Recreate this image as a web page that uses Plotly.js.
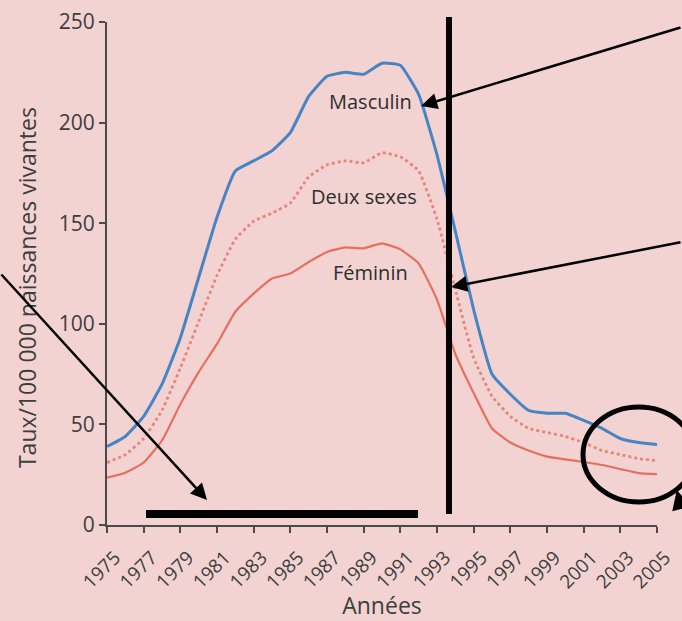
<!DOCTYPE html>
<html>
<head>
<meta charset="utf-8">
<script src="https://cdn.plot.ly/plotly-3.0.1.min.js"></script>
<style>html,body{margin:0;padding:0;background:#f3d3d2;}#chart{width:682px;height:621px;}</style>
</head>
<body>
<div id="chart"></div>
<script>
const years = [1975,1976,1977,1978,1979,1980,1981,1982,1983,1984,1985,1986,1987,1988,1989,1990,1991,1992,1993,1994,1995,1996,1997,1998,1999,2000,2001,2002,2003,2004,2005];
const masculin = [39,44,54,70,93,123,153,176,181,186,195,213,223,225,224,229.5,228.5,214,184,146,107,75,65,57,55.6,55.5,52,48,43,41,40];
const deuxSexes = [31,35,43,57,78,101,124,142,151,155,160,173,179,181,180,185,183,176,152,117,83,64,54,48,46,44,41,37,35,33,32];
const feminin = [23.5,26,31,42,60,76,90,106,115,122.5,125,130.7,135.7,138,137.5,140,137,130,112,85,65.6,48,41,37,34,32.6,31.3,29.8,27.8,25.8,25.3];
const tickYears = [1975,1977,1979,1981,1983,1985,1987,1989,1991,1993,1995,1997,1999,2001,2003,2005];
const yTicks = [0,50,100,150,200,250];
const seriesLabels = ["Masculin","Deux sexes","Féminin"];
const xTitle = "Années";
const yTitle = "Taux/100 000 naissances vivantes";

const font = "Open Sans, Noto Sans, sans-serif";
const traces = [
  {x: years, y: masculin, name: seriesLabels[0], mode: "lines", line: {color: "#4585c4", width: 3, shape: "spline", smoothing: 0.4}},
  {x: years, y: deuxSexes, name: seriesLabels[1], mode: "lines", line: {color: "#e4877a", width: 2.8, dash: "dot", shape: "spline", smoothing: 0.4}},
  {x: years, y: feminin, name: seriesLabels[2], mode: "lines", line: {color: "#e66f5f", width: 2.2, shape: "spline", smoothing: 0.4}}
];

const arrow = (x, y, ax, ay, w) => ({xref: "paper", yref: "paper", x: x, y: y, ax: ax, ay: ay, text: "", showarrow: true, arrowhead: 2, arrowsize: 1.3, arrowwidth: w, arrowcolor: "#000", standoff: 0});
const label = (x, y, t) => ({x: x, y: y, xref: "x", yref: "y", text: t, showarrow: false, font: {size: 20, color: "#2e2e2e", family: font}});

const layout = {
  width: 682, height: 621,
  margin: {l: 107, r: 25, t: 22, b: 96},
  paper_bgcolor: "#f3d3d2", plot_bgcolor: "#f3d3d2",
  showlegend: false,
  font: {family: font, color: "#3d3d3d"},
  xaxis: {
    range: [1975, 2005], tickvals: tickYears, ticktext: tickYears.map(String), tickangle: -45,
    showgrid: false, zeroline: false, showline: true, linecolor: "#4a4a4a", linewidth: 2,
    ticks: "outside", ticklen: 6, tickwidth: 2, tickcolor: "#4a4a4a", ticklabelshift: 8, ticklabelstandoff: 6,
    tickfont: {size: 19, color: "#3d3d3d", family: font},
    title: {text: xTitle, font: {size: 23, color: "#3d3d3d", family: font}, standoff: 2}
  },
  yaxis: {
    range: [0, 250], tickvals: yTicks, showgrid: false, zeroline: false, showline: true, linecolor: "#4a4a4a", linewidth: 2,
    ticks: "outside", ticklen: 6, tickwidth: 2, tickcolor: "#4a4a4a",
    tickfont: {size: 21, color: "#3d3d3d", family: font}
  },
  annotations: [
    {xref: "paper", yref: "paper", x: -0.1455, y: 0.473, xanchor: "center", yanchor: "middle", text: yTitle, textangle: -90, showarrow: false, font: {size: 23, color: "#3d3d3d", family: font}},
    label(1989.35, 210.6, seriesLabels[0]),
    label(1989.0, 163.4, seriesLabels[1]),
    label(1989.35, 125.7, seriesLabels[2]),
    arrow(0.1818, 0.0497, -207, -227, 2.5),
    arrow(0.5709, 0.833, 261, -79, 2.5),
    arrow(0.6255, 0.4732, 231, -45, 2.5),
    arrow(1.036, 0.0696, 20, 20, 3)
  ],
  shapes: [
    {type: "line", xref: "paper", yref: "paper", x0: 0.6218, x1: 0.6218, y0: 0.0219, y1: 1.0099, line: {color: "#000", width: 6}},
    {type: "line", xref: "paper", yref: "paper", x0: 0.0709, x1: 0.5655, y0: 0.0219, y1: 0.0219, line: {color: "#000", width: 8}},
    {type: "circle", xref: "paper", yref: "paper", x0: 0.8655, x1: 1.0684, y0: 0.0457, y1: 0.2346, line: {color: "#000", width: 5}}
  ]
};

Plotly.newPlot("chart", traces, layout, {displayModeBar: false, staticPlot: true});
</script>
</body>
</html>
